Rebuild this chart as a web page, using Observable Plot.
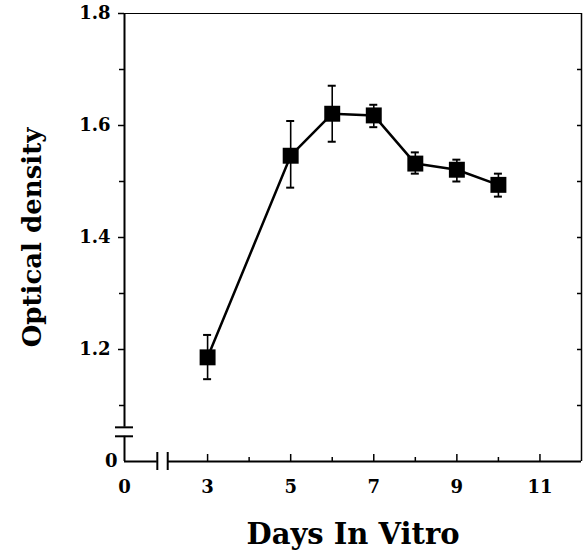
<!DOCTYPE html>
<html>
<head>
<meta charset="utf-8">
<script src="https://cdn.jsdelivr.net/npm/d3@7"></script>
<script src="https://cdn.jsdelivr.net/npm/@observablehq/plot@0.6"></script>
<style>
  html, body { margin: 0; padding: 0; background: #fff; }
</style>
</head>
<body>
<div id="chart"></div>
<script>
// ---- data ----
const days   = [3, 5, 6, 7, 8, 9, 10];
const od     = [1.186, 1.546, 1.621, 1.618, 1.532, 1.521, 1.494];
const odHigh = [1.226, 1.608, 1.671, 1.637, 1.552, 1.539, 1.514];
const odLow  = [1.147, 1.489, 1.571, 1.597, 1.514, 1.500, 1.473];

const xTitle = "Days In Vitro";
const yTitle = "Optical density";

const xTicks = [3, 5, 7, 9, 11];
const xMinorTicks = [4, 6, 8, 10];
const yTicks = [1.2, 1.4, 1.6, 1.8];
const yMinorTicks = [1.1, 1.3, 1.5, 1.7];
const yRightTicks = [1.1, 1.2, 1.3, 1.4, 1.5, 1.6, 1.7];

// broken-axis origin (labelled "0") and break positions
const xOrigin = [1];
const yOrigin = [1.0];
const originLabel = "0";
const xDomain = [1, 12];
const yDomain = [1.0, 1.8];
const xBreak = [1.79, 2.04];
const yBreak = [1.045, 1.061];

const data = days.map((d, i) => ({day: d, od: od[i], hi: odHigh[i], lo: odLow[i]}));

const font = "DejaVu Serif";
const tickFont = 18;

const chart = Plot.plot({
  width: 583,
  height: 553,
  marginLeft: 124,
  marginRight: 2,
  marginTop: 13,
  marginBottom: 92,
  style: {fontFamily: font, fontWeight: "bold", background: "#fff", color: "#000"},
  x: {domain: xDomain},
  y: {domain: yDomain},
  marks: [
    // frame: top and right
    Plot.ruleY([yDomain[1]], {x1: xDomain[0], x2: xDomain[1], stroke: "#000", strokeWidth: 1}),
    Plot.ruleX([xDomain[1]], {y1: yDomain[0], y2: yDomain[1], stroke: "#000", strokeWidth: 1.5}),
    Plot.ruleY(yRightTicks, {x1: xDomain[1], x2: xDomain[1], insetLeft: -4, stroke: "#000", strokeWidth: 1.5}),

    // x axis line with break
    Plot.ruleY(yOrigin, {x1: xDomain[0], x2: xBreak[0], stroke: "#000", strokeWidth: 2}),
    Plot.ruleY(yOrigin, {x1: xBreak[1], x2: xDomain[1], stroke: "#000", strokeWidth: 2}),
    Plot.ruleX(xBreak, {x: d => d, y1: yOrigin[0], y2: yOrigin[0], insetTop: -9, insetBottom: -9, stroke: "#000", strokeWidth: 2}),

    // y axis line with break
    Plot.ruleX(xOrigin, {y1: yDomain[0], y2: yBreak[0], stroke: "#000", strokeWidth: 2}),
    Plot.ruleX(xOrigin, {y1: yBreak[1], y2: yDomain[1], stroke: "#000", strokeWidth: 2}),
    Plot.ruleY(yBreak, {y: d => d, x1: xOrigin[0], x2: xOrigin[0], insetLeft: -9, insetRight: -9, stroke: "#000", strokeWidth: 2}),

    // x ticks (inward)
    Plot.ruleX(xTicks, {x: d => d, y1: yOrigin[0], y2: yOrigin[0], insetTop: -7, stroke: "#000", strokeWidth: 1.5}),
    Plot.ruleX(xMinorTicks, {x: d => d, y1: yOrigin[0], y2: yOrigin[0], insetTop: -4, stroke: "#000", strokeWidth: 1.5}),
    // y ticks (outward)
    Plot.ruleY(yTicks, {y: d => d, x1: xOrigin[0], x2: xOrigin[0], insetLeft: -6, stroke: "#000", strokeWidth: 1.5}),
    Plot.ruleY(yMinorTicks, {y: d => d, x1: xOrigin[0], x2: xOrigin[0], insetLeft: -5, stroke: "#000", strokeWidth: 1.5}),

    // tick labels
    Plot.axisX({ticks: xTicks, tickSize: 0, tickPadding: 19, label: null, fontSize: tickFont, fontWeight: "bold", tickFormat: d => String(d)}),
    Plot.axisX({ticks: xOrigin, tickSize: 0, tickPadding: 19, label: null, fontSize: tickFont, fontWeight: "bold", tickFormat: () => originLabel}),
    Plot.axisY({ticks: yTicks, tickSize: 0, tickPadding: 14, label: null, fontSize: tickFont, fontWeight: "bold", tickFormat: d3.format(".1f")}),
    Plot.axisY({ticks: yOrigin, tickSize: 0, tickPadding: 7, label: null, fontSize: tickFont, fontWeight: "bold", tickFormat: () => originLabel}),

    // axis titles
    Plot.text([xTitle], {frameAnchor: "bottom", dy: 73, lineAnchor: "middle", textAnchor: "middle", fontSize: 29, fontWeight: "bold", fill: "#000"}),
    Plot.text([yTitle], {frameAnchor: "left", dx: -92, dy: 0, lineAnchor: "middle", textAnchor: "middle", rotate: -90, fontSize: 26, fontWeight: "bold", fill: "#000"}),

    // data
    Plot.ruleX(data, {x: "day", y1: "lo", y2: "hi", stroke: "#000", strokeWidth: 1.6}),
    Plot.ruleY(data, {y: "hi", x1: "day", x2: "day", insetLeft: -4, insetRight: -4, stroke: "#000", strokeWidth: 2}),
    Plot.ruleY(data, {y: "lo", x1: "day", x2: "day", insetLeft: -4, insetRight: -4, stroke: "#000", strokeWidth: 2}),
    Plot.line(data, {x: "day", y: "od", stroke: "#000", strokeWidth: 2.5}),
    Plot.dot(data, {x: "day", y: "od", symbol: "square", r: 9, fill: "#000", stroke: "none"})
  ]
});
document.getElementById("chart").appendChild(chart);
</script>
</body>
</html>
